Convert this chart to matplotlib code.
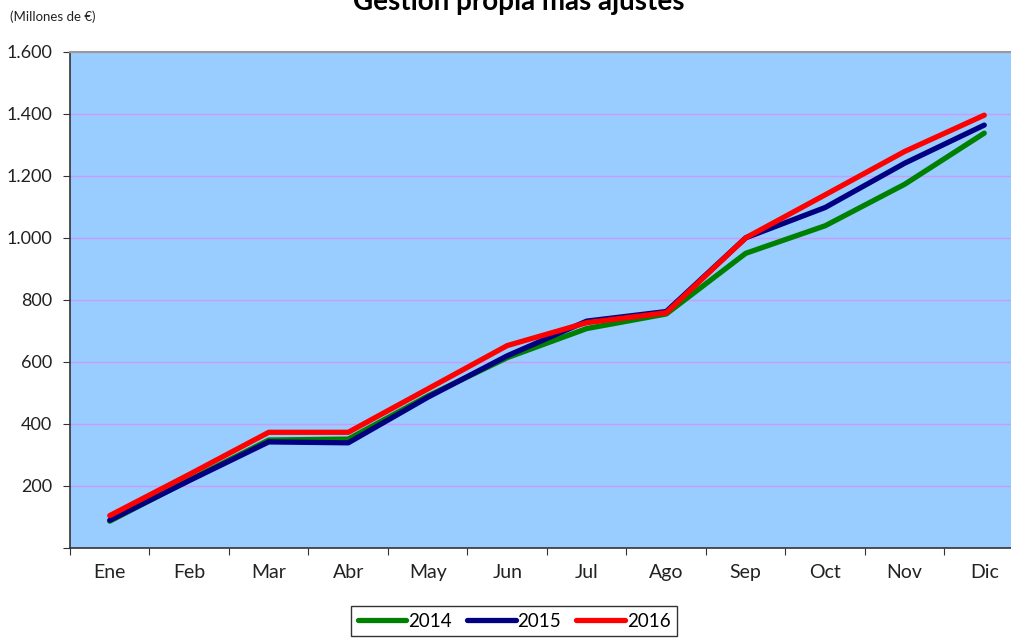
import matplotlib.pyplot as plt
from matplotlib.ticker import FuncFormatter

meses = ['Ene', 'Feb', 'Mar', 'Abr', 'May', 'Jun', 'Jul', 'Ago', 'Sep', 'Oct', 'Nov', 'Dic']
v2014 = [85, 218, 347, 350, 489, 613, 707, 754, 950, 1039, 1173, 1338]
v2015 = [88, 216, 341, 338, 485, 619, 731, 762, 1000, 1098, 1241, 1364]
v2016 = [103, 236, 372, 372, 512, 652, 726, 758, 1000, 1139, 1279, 1396]
yticks = [200, 400, 600, 800, 1000, 1200, 1400, 1600]

plt.rcParams['font.family'] = ['Lato', 'DejaVu Sans']

fig = plt.figure(figsize=(10.12, 6.38), dpi=100)
# el area del grafico se sale un poco por la derecha, como en el original
ax = fig.add_axes([70 / 1012, 90.5 / 638, 954 / 1012, 495.5 / 638])
ax.set_facecolor('#99CCFF')

x = range(len(meses))
ax.plot(x, v2014, color='#008000', linewidth=3.8, solid_capstyle='round', label='2014')
ax.plot(x, v2015, color='#000080', linewidth=3.8, solid_capstyle='round', label='2015')
ax.plot(x, v2016, color='#FF0000', linewidth=3.8, solid_capstyle='round', label='2016')

ax.set_xlim(-0.5, len(meses) - 0.5)
ax.set_ylim(0, 1600)
ax.set_yticks([0] + yticks)
ax.yaxis.set_major_formatter(FuncFormatter(
    lambda v, p: '' if v == 0 else f'{int(v):,}'.replace(',', '.')))
ax.set_xticks([i + 0.5 for i in range(-1, len(meses))], minor=False)
ax.set_xticklabels([])
ax.set_xticks(list(x), minor=True)
ax.set_xticklabels(meses, minor=True)
ax.tick_params(axis='x', which='minor', length=0, pad=12, labelsize=14, colors='#222222')
ax.tick_params(axis='x', which='major', length=5, direction='out', color='#333333')
ax.tick_params(axis='y', length=5, direction='out', labelsize=13, pad=8, colors='#222222')
ax.tick_params(axis='y', color='#333333')

ax.grid(axis='y', color='#CC99FF', linewidth=1)
ax.set_axisbelow(True)
for s in ['left', 'bottom']:
    ax.spines[s].set_color('#333333')
    ax.spines[s].set_linewidth(1.2)
ax.spines['top'].set_color('#999999')
ax.spines['top'].set_linewidth(1.5)
ax.spines['right'].set_visible(False)

fig.text(519 / 1012, 1 - 10 / 638, 'Gestión propia más ajustes', ha='center', va='baseline',
         fontsize=20, fontweight='bold')
fig.text(10 / 1012, 1 - 21 / 638, '(Millones de €)', ha='left', va='baseline', fontsize=9.5,
         color='#222222')

leg = fig.legend(loc='upper center', bbox_to_anchor=(514 / 1012, 1 - 606 / 638), ncol=3,
                 fontsize=13.5, frameon=True, fancybox=False, edgecolor='black',
                 handlelength=2.6, columnspacing=0.8, handletextpad=0.1, borderpad=0.35,
                 borderaxespad=0)
leg.get_frame().set_linewidth(1)

fig.savefig('out.png', dpi=100)
